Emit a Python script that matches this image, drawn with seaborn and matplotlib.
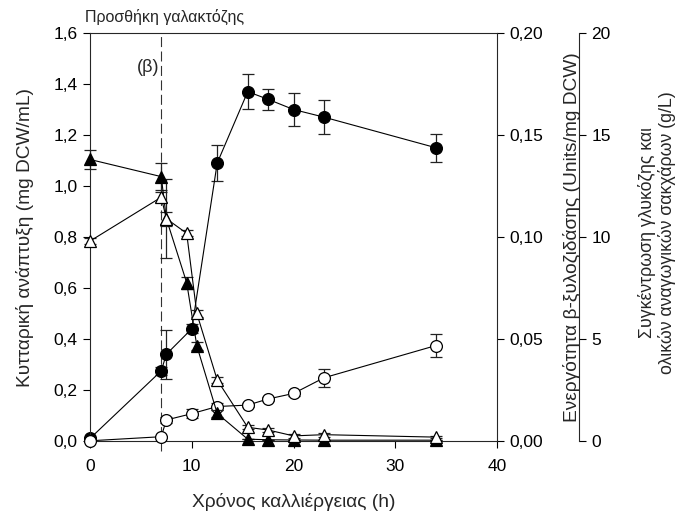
import matplotlib
matplotlib.use("Agg")
import matplotlib.pyplot as plt
from matplotlib.ticker import FuncFormatter, MultipleLocator
import seaborn as sns

# Culture time (h) for each measured series
time_cells = [0, 7, 7.5, 10, 12.5, 15.5, 17.5, 20, 23, 34]
time_activity = [0, 7, 7.5, 10, 12.5, 15.5, 17.5, 20, 23, 34]
time_sugars = [0, 7, 7.5, 9.5, 10.5, 12.5, 15.5, 17.5, 20, 23, 34]

# Cell growth (mg DCW/mL)
cells = [0.01, 0.275, 0.34, 0.44, 1.09, 1.37, 1.34, 1.30, 1.27, 1.15]
cells_err = [0.0, 0.015, 0.095, 0.018, 0.069, 0.069, 0.041, 0.065, 0.066, 0.055]

# beta-xylosidase activity (Units/mg DCW)
activity = [0.0001, 0.0021, 0.0103, 0.0134, 0.0169, 0.0176, 0.0206, 0.0233, 0.0310, 0.0468]
activity_err = [0.0, 0.0004, 0.0017, 0.0022, 0.0015, 0.0010, 0.0010, 0.0012, 0.0043, 0.0058]

# Glucose and total reducing sugars (g/L)
glucose = [13.8, 12.96, 10.9, 7.76, 4.66, 1.35, 0.09, 0.06, 0.05, 0.04, 0.04]
glucose_err = [0.46, 0.66, 0.34, 0.30, 0.20, 0.15, 0.0, 0.0, 0.0, 0.0, 0.0]
reducing = [9.8, 11.95, 10.9, 10.18, 6.25, 2.99, 0.67, 0.54, 0.25, 0.31, 0.19]
reducing_err = [0.15, 0.25, 1.92, 0.15, 0.15, 0.15, 0.10, 0.10, 0.10, 0.10, 0.05]

galactose_time = 7

sns.set_style("ticks")
plt.rcParams["font.family"] = ["Liberation Sans", "DejaVu Sans"]
plt.rcParams["axes.linewidth"] = 0.8

fig = plt.figure(figsize=(6.83, 5.15), dpi=100)
ax = fig.add_axes([0.1318, 0.1437, 0.5959, 0.7922])
ax2 = ax.twinx()
ax3 = ax.twinx()

line_kw = dict(color="black", linewidth=0.8, markersize=8.5, clip_on=False,
               markeredgecolor="black", markeredgewidth=0.9)
err_kw = dict(fmt="none", ecolor="#222222", elinewidth=0.9, capsize=4.5,
              capthick=0.9, clip_on=False)


def draw(axis, x, y, err, marker, filled):
    axis.errorbar(x, y, yerr=err, zorder=1, **err_kw)
    sns.lineplot(x=x, y=y, ax=axis, marker=marker,
                 markerfacecolor="black" if filled else "white",
                 zorder=2, **line_kw)


draw(ax, time_cells, cells, cells_err, "o", True)
draw(ax2, time_activity, activity, activity_err, "o", False)
draw(ax3, time_sugars, glucose, glucose_err, "^", True)
draw(ax3, time_sugars, reducing, reducing_err, "^", False)

# Galactose addition marker
ax.axvline(galactose_time, ymin=-0.025, ymax=1, clip_on=False, color="#333333",
           linewidth=0.8, linestyle=(0, (9, 4)), zorder=0)
ax.text(galactose_time - 0.2, 1.465, "(β)", ha="right", va="center", fontsize=13)
fig.text(0.125, 0.967, "Προσθήκη γαλακτόζης", ha="left", va="center", fontsize=11.5)

comma1 = FuncFormatter(lambda v, p: f"{v:.1f}".replace(".", ","))
comma2 = FuncFormatter(lambda v, p: f"{v:.2f}".replace(".", ","))

ax.set_xlim(0, 40)
ax.set_ylim(0, 1.6)
ax.xaxis.set_major_locator(MultipleLocator(10))
ax.yaxis.set_major_locator(MultipleLocator(0.2))
ax.yaxis.set_major_formatter(comma1)

ax2.set_ylim(0, 0.20)
ax2.yaxis.set_major_locator(MultipleLocator(0.05))
ax2.yaxis.set_major_formatter(comma2)

ax3.set_ylim(0, 20)
ax3.yaxis.set_major_locator(MultipleLocator(5))
ax3.spines["right"].set_position(("axes", 1.2015))

for a in (ax, ax2, ax3):
    a.tick_params(direction="out", length=5, width=0.8, labelsize=12.5, pad=4,
                  colors="black")
ax.tick_params(axis="x", pad=8)
ax.spines["right"].set_visible(False)
ax.spines["top"].set_visible(True)
ax2.spines["top"].set_visible(False)
ax2.spines["left"].set_visible(False)
ax2.spines["bottom"].set_visible(False)
ax3.spines["top"].set_visible(False)
ax3.spines["left"].set_visible(False)
ax3.spines["bottom"].set_visible(False)

label_size = 13.8
ax.set_xlabel("Χρόνος καλλιέργειας (h)", fontsize=label_size, va="center")
ax.xaxis.set_label_coords(0.5, -0.15)
ax.set_ylabel("Κυτταρική ανάπτυξη (mg DCW/mL)", fontsize=label_size, va="center")
ax.yaxis.set_label_coords(-0.16, 0.5)
ax2.set_ylabel("Ενεργότητα β-ξυλοζιδάσης (Units/mg DCW)", fontsize=label_size,
               va="center", rotation=90)
ax2.yaxis.set_label_coords(1.184, 0.5)
ax3.set_ylabel("Συγκέντρωση γλυκόζης και\nολικών αναγωγικών σακχάρων (g/L)",
               fontsize=12.8, va="center", rotation=90,
               multialignment="center", linespacing=1.15)
ax3.yaxis.set_label_coords(1.393, 0.51)

fig.savefig("out.png", dpi=100)
